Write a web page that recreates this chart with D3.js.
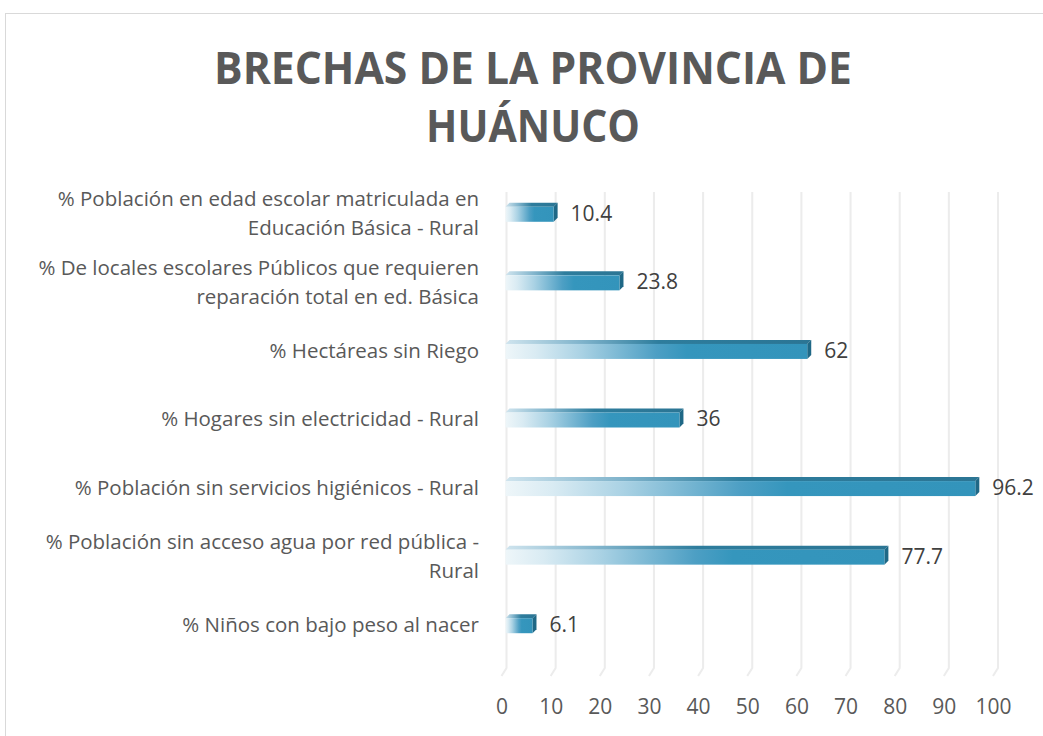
<!DOCTYPE html>
<html>
<head>
<meta charset="utf-8">
<script src="https://cdn.jsdelivr.net/npm/d3@7"></script>
<style>
  body { margin: 0; background: #fff; }
  text { font-family: "Open Sans", sans-serif; }
</style>
</head>
<body>
<script>
// Chart data, top to bottom
var categories = [
  ["% Población en edad escolar matriculada en", "Educación Básica - Rural"],
  ["% De locales escolares Públicos que requieren", "reparación total en ed. Básica"],
  ["% Hectáreas sin Riego"],
  ["% Hogares sin electricidad - Rural"],
  ["% Población sin servicios higiénicos - Rural"],
  ["% Población sin acceso agua por red pública -", "Rural"],
  ["% Niños con bajo peso al nacer"]
];
var values = [10.4, 23.8, 62, 36, 96.2, 77.7, 6.1];
var tickValues = [0, 10, 20, 30, 40, 50, 60, 70, 80, 90, 100];
var titleLines = ["BRECHAS DE LA PROVINCIA DE", "HUÁNUCO"];

var width = 1043, height = 736;
var svg = d3.select("body").append("svg")
  .attr("width", width)
  .attr("height", height);

// outer chart border
svg.append("rect")
  .attr("x", 5.5).attr("y", 13.5)
  .attr("width", 1060).attr("height", 760)
  .attr("fill", "none")
  .attr("stroke", "#d9d9d9");

// title
svg.selectAll(".title")
  .data(titleLines)
  .enter().append("text")
  .attr("class", "title")
  .attr("x", 533)
  .attr("y", function (d, i) { return 84 + i * 58; })
  .attr("text-anchor", "middle")
  .attr("font-size", 44)
  .attr("font-weight", "bold")
  .attr("fill", "#595959")
  .attr("textLength", function (d, i) { return i === 0 ? 638 : 214; })
  .attr("lengthAdjust", "spacingAndGlyphs")
  .text(function (d) { return d; });

var x = d3.scaleLinear().domain([0, 100]).range([506.5, 998]);
var y = d3.scaleBand().domain(d3.range(values.length)).range([178, 658]).padding(0);

var gridTop = 192, gridBottom = 668, dep = 5;

// back-wall gridlines with floor slant
svg.append("g").selectAll("path")
  .data(tickValues)
  .enter().append("path")
  .attr("d", function (d) {
    var gx = x(d);
    return "M" + gx + "," + gridTop + "V" + gridBottom + "l" + (-dep) + "," + (dep + 3);
  })
  .attr("fill", "none")
  .attr("stroke", "#ececec")
  .attr("stroke-width", 2);

// x axis labels (front plane)
var xAxis = d3.axisBottom(x).tickValues(tickValues).tickSize(0).tickPadding(0);
var ax = svg.append("g")
  .attr("transform", "translate(" + (-5) + ",714)")
  .call(xAxis);
ax.select(".domain").remove();
ax.selectAll("text")
  .attr("font-family", "Open Sans, sans-serif")
  .attr("font-size", 21)
  .attr("fill", "#595959")
  .attr("dy", 0);

// gradients
var defs = svg.append("defs");
var gFront = defs.append("linearGradient").attr("id", "gFront")
  .attr("x1", 0).attr("x2", 1).attr("y1", 0).attr("y2", 0);
[[0, "#eef6f9"], [0.1, "#d9ebf3"], [0.25, "#aad2e4"], [0.5, "#4d9fc4"], [0.6, "#3596bd"], [1, "#3394bb"]]
  .forEach(function (s) { gFront.append("stop").attr("offset", s[0]).attr("stop-color", s[1]); });
var gTop = defs.append("linearGradient").attr("id", "gTop")
  .attr("x1", 0).attr("x2", 1).attr("y1", 0).attr("y2", 0);
[[0, "#cfe4ee"], [0.25, "#7fb3cb"], [0.5, "#2e7d9d"], [1, "#2b7594"]]
  .forEach(function (s) { gTop.append("stop").attr("offset", s[0]).attr("stop-color", s[1]); });

var barH = 15, d3x = 4, d3y = 4;
var bars = svg.append("g").selectAll("g")
  .data(values)
  .enter().append("g")
  .attr("transform", function (d, i) {
    return "translate(0," + (y(i) + y.bandwidth() / 2 - barH / 2 + 2) + ")";
  });

// top face
bars.append("path")
  .attr("d", function (d) {
    var x0 = x(0) - 1, x1 = x(d) - d3x;
    return "M" + x0 + ",0L" + (x0 + d3x) + "," + (-d3y) + "L" + (x1 + d3x) + "," + (-d3y) + "L" + x1 + ",0Z";
  })
  .attr("fill", "url(#gTop)");
// side face
bars.append("path")
  .attr("d", function (d) {
    var x1 = x(d) - d3x;
    return "M" + x1 + ",0L" + (x1 + d3x) + "," + (-d3y) + "L" + (x1 + d3x) + "," + (barH - d3y) + "L" + x1 + "," + barH + "Z";
  })
  .attr("fill", "#1f6886");
// front face
bars.append("rect")
  .attr("x", x(0) - 1)
  .attr("y", 0)
  .attr("width", function (d) { return x(d) - d3x - x(0) + 1; })
  .attr("height", barH)
  .attr("fill", "url(#gFront)");

// value labels
bars.append("text")
  .attr("x", function (d) { return x(d) + 13; })
  .attr("y", barH / 2 - 1)
  .attr("dy", "0.35em")
  .attr("font-size", 21)
  .attr("fill", "#404040")
  .text(function (d) { return d; });

// category labels
var cats = svg.append("g").selectAll("text")
  .data(categories)
  .enter().append("text")
  .attr("text-anchor", "end")
  .attr("font-size", 20.5)
  .attr("fill", "#595959")
  .attr("transform", function (d, i) {
    var cy = y(i) + y.bandwidth() / 2 + 1;
    return "translate(479," + (cy - (d.length - 1) * 14.5) + ")";
  });
cats.selectAll("tspan")
  .data(function (d) { return d; })
  .enter().append("tspan")
  .attr("x", 0)
  .attr("y", function (d, i) { return i * 29; })
  .attr("dy", "0.35em")
  .text(function (d) { return d; });
</script>
</body>
</html>
